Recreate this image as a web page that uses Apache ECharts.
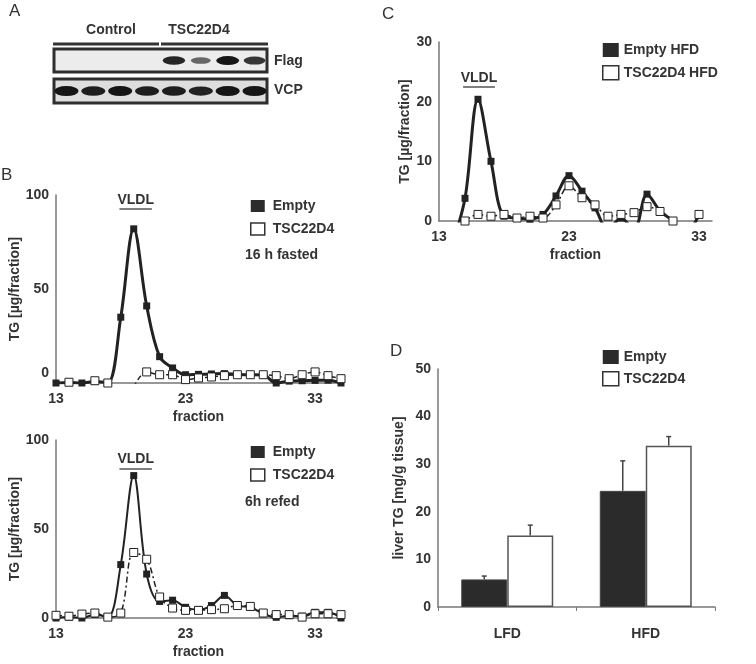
<!DOCTYPE html>
<html>
<head>
<meta charset="utf-8">
<script src="https://cdn.jsdelivr.net/npm/echarts@6/dist/echarts.min.js"></script>
<style>html,body{margin:0;padding:0;background:#fff}#c{width:756px;height:664px}</style>
</head>
<body>
<div id="c"></div>
<script>
// ---------- DATA ----------
// Panel A (western blot): lane intensities (0..1)
const lanes = ['C1','C2','C3','C4','T1','T2','T3','T4'];
const flagIntensity = [0, 0, 0, 0, 0.9, 0.5, 1.0, 0.8];
const vcpIntensity  = [1.0, 0.95, 1.0, 0.95, 0.95, 0.92, 1.0, 1.0];

// Panel B: fractions 13..35
const fractionsB = [13,14,15,16,17,18,19,20,21,22,23,24,25,26,27,28,29,30,31,32,33,34,35];
const fastedEmpty = [0,0.3,0,0.8,0.2,35,82,41,14,8,4.4,4.6,4.8,5,4.5,4.4,4.2,0,1,1.2,1.4,1.5,0];
const fastedTSC   = [null,0.4,null,1.2,0,null,-2,5.9,4.4,4.4,1.8,2.7,3.2,3.9,4.4,4.4,4.4,3.9,2.3,4.4,5.9,3.9,2.3];
const refedEmpty  = [0,0.5,0,2,0.5,30,80,24.7,9.3,10,6,4.7,7,12.7,7,6,2.4,0.4,1.3,1,3.2,3.2,0];
const refedTSC    = [1.5,1,2.2,2.8,0.5,2.8,36.8,33,11.8,5.6,4.3,4.3,4.7,5.2,7,6.5,2.8,1.9,1.9,0.5,2.4,2.4,1.9];

// Panel C: fractions 13..34 (HFD)
const fractionsC = [13,14,15,16,17,18,19,20,21,22,23,24,25,26,27,28,29,30,31,32,33,34];
const hfdEmpty = [null,-4,3.8,20.4,10,0.8,0.5,0.3,1.1,4.2,7.6,5.0,2.2,-1.5,0.5,-1.5,4.5,1.7,0,-2,1.1,null];
const hfdTSC   = [null,null,0,1.1,0.8,1.1,0.5,0.8,0.5,2.7,5.9,3.9,2.7,0.8,1.1,1.4,2.4,1.6,0,null,1.1,null];

// Panel D: liver TG
const dietCategories = ['LFD','HFD'];
const liverEmpty    = [5.8, 24.4];
const liverEmptyErr = [0.7, 6.3];
const liverTSC      = [15.0, 33.9];
const liverTSCErr   = [2.2, 1.9];

// Axis ticks
const fractionTicks = [13, 23, 33];

// ---------- STYLE ----------
const FONT = '"Liberation Sans", Arial, sans-serif';
const TXT = '#333';
const AX = '#777';
const DARK = '#222';
const lbl = {color: TXT, fontFamily: FONT, fontWeight: 'bold', fontSize: 14};

function pairs(xs, ys){ return xs.map((x,i)=>[x, ys[i]]); }

function fracXAxis(gi, max){
  return {
    gridIndex: gi, type: 'value', min: 13, max: max, interval: 10,
    axisLine: {show: true, onZero: false, lineStyle: {color: AX, width: 1.5}},
    axisTick: {show: false}, splitLine: {show: false},
    axisLabel: Object.assign({margin: 9, formatter: v => fractionTicks.includes(v) ? String(v) : ''}, lbl),
    name: 'fraction', nameLocation: 'middle', nameGap: 27, nameTextStyle: lbl
  };
}
function valYAxis(gi, max, interval, name, gap, liftZero){
  const ax = {
    gridIndex: gi, type: 'value', min: 0, max: max, interval: interval,
    axisLine: {show: true, lineStyle: {color: AX, width: 1.5}},
    axisTick: {show: false}, splitLine: {show: false},
    axisLabel: Object.assign({margin: 7}, lbl),
    name: name, nameLocation: 'middle', nameGap: gap, nameTextStyle: lbl
  };
  if (liftZero) {
    ax.axisLabel.formatter = v => v === 0 ? '{z|0}' : String(v);
    ax.axisLabel.rich = {z: Object.assign({padding: [0, 0, 20, 0]}, lbl)};
  }
  return ax;
}
function vldl(x0, x1, y){
  return {
    silent: true, symbol: 'none',
    lineStyle: {color: '#555', width: 1.5, type: 'solid'},
    label: Object.assign({show: true, position: 'insideMiddleTop', distance: 2, formatter: 'VLDL'}, lbl),
    data: [[{coord: [x0, y]}, {coord: [x1, y]}]]
  };
}
function emptyLine(name, gi, data, w, mark){
  const s = {
    name: name, type: 'line', xAxisIndex: gi, yAxisIndex: gi, data: data,
    smooth: 0.35, connectNulls: false, clip: true,
    symbol: 'rect', symbolSize: 7,
    lineStyle: {color: DARK, width: w},
    itemStyle: {color: DARK}, z: 3
  };
  if (mark) s.markLine = mark;
  return s;
}
function tscLine(name, gi, data, dash){
  return {
    name: name, type: 'line', xAxisIndex: gi, yAxisIndex: gi, data: data,
    smooth: 0.35, connectNulls: false, clip: true,
    symbol: 'rect', symbolSize: 8,
    lineStyle: {color: DARK, width: 1.5, type: dash},
    itemStyle: {color: '#fff', borderColor: DARK, borderWidth: 1}, z: 4
  };
}
function legend(left, top, names, iw, ih, gap, pad){
  return {
    left: left, top: top, orient: 'vertical', selectedMode: false,
    itemWidth: iw, itemHeight: ih, itemGap: gap,
    textStyle: Object.assign({padding: [0,0,0,pad]}, lbl),
    data: [
      {name: names[0], icon: 'rect', itemStyle: {color: '#2b2b2b', borderWidth: 0}},
      {name: names[1], icon: 'rect', itemStyle: {color: '#fff', borderColor: '#333', borderWidth: 1.5}}
    ]
  };
}
function errBar(offset){
  return function(params, api){
    const ci = api.value(0), v = api.value(1), e = api.value(2);
    const base = api.coord([ci, v]);
    const top = api.coord([ci, v + e]);
    const cw = api.size([1, 0])[0];
    const x = base[0] + offset * cw;
    const st = {stroke: '#444', lineWidth: 1.5};
    return {type: 'group', children: [
      {type: 'line', shape: {x1: x, y1: base[1], x2: x, y2: top[1]}, style: st},
      {type: 'line', shape: {x1: x - 2.5, y1: top[1], x2: x + 2.5, y2: top[1]}, style: st}
    ]};
  };
}

const bandColor = p => 'rgba(22,22,22,' + (0.25 + 0.75 * p.value[2]) + ')';
const flagBands = flagIntensity.map((v,i)=>[i, 1.55, v]).filter(d => d[2] > 0);
const vcpBands  = vcpIntensity.map((v,i)=>[i, 0.46, v]);

const chart = echarts.init(document.getElementById('c'), null, {renderer: 'canvas'});
chart.setOption({
  backgroundColor: '#fff',
  animation: false,
  textStyle: {fontFamily: FONT},
  grid: [
    {left: 53, top: 48, width: 215, height: 56},
    {left: 56, top: 195, width: 285, height: 188},
    {left: 56, top: 440, width: 285, height: 178},
    {left: 439, top: 42, width: 273, height: 179},
    {left: 438, top: 369, width: 277, height: 238}
  ],
  xAxis: [
    {gridIndex: 0, type: 'category', data: lanes, show: false},
    fracXAxis(1, 35),
    fracXAxis(2, 35),
    fracXAxis(3, 34),
    {gridIndex: 4, type: 'category', data: dietCategories,
     axisLine: {show: true, lineStyle: {color: AX, width: 1.5}},
     axisTick: {show: true, length: 4, lineStyle: {color: AX}},
     axisLabel: Object.assign({margin: 20}, lbl)}
  ],
  yAxis: [
    {gridIndex: 0, type: 'value', min: 0, max: 2, show: false},
    valYAxis(1, 100, 50, 'TG [µg/fraction]', 19, true),
    valYAxis(2, 100, 50, 'TG [µg/fraction]', 19, false),
    valYAxis(3, 30, 10, 'TG [µg/fraction]', 27, false),
    valYAxis(4, 50, 10, 'liver TG [mg/g tissue]', 32, false)
  ],
  legend: [
    legend(245, 194, ['Empty','TSC22D4'], 14, 12, 9, 3),
    legend(245, 440, ['Empty','TSC22D4'], 14, 12, 9, 3),
    legend(597, 38, ['Empty HFD','TSC22D4 HFD'], 16, 14, 8, 0),
    legend(597, 345, ['Empty','TSC22D4'], 16, 14, 7, 0)
  ],
  series: [
    {type: 'scatter', xAxisIndex: 0, yAxisIndex: 0, data: flagBands, silent: true, z: 3,
     symbol: 'circle', symbolSize: v => [17 + 6 * v[2], 4 + 5 * v[2]],
     itemStyle: {color: bandColor, opacity: 1}},
    {type: 'scatter', xAxisIndex: 0, yAxisIndex: 0, data: vcpBands, silent: true, z: 3,
     symbol: 'circle', symbolSize: v => [24, 10 * v[2]],
     itemStyle: {color: bandColor, opacity: 1}},

    emptyLine('Empty', 1, pairs(fractionsB, fastedEmpty), 3, vldl(17.9, 20.4, 92.5)),
    tscLine('TSC22D4', 1, pairs(fractionsB, fastedTSC), [5, 3]),
    emptyLine('Empty', 2, pairs(fractionsB, refedEmpty), 2, vldl(17.9, 20.4, 84)),
    tscLine('TSC22D4', 2, pairs(fractionsB, refedTSC), [6, 3, 2, 3]),
    emptyLine('Empty HFD', 3, pairs(fractionsC, hfdEmpty), 3, vldl(14.85, 17.3, 22.5)),
    tscLine('TSC22D4 HFD', 3, pairs(fractionsC, hfdTSC), [6, 3, 2, 3]),

    {name: 'Empty', type: 'bar', xAxisIndex: 4, yAxisIndex: 4, data: liverEmpty,
     barWidth: '33.2%', barGap: '0%', itemStyle: {color: '#2b2b2b', borderColor: '#444', borderWidth: 1}},
    {name: 'TSC22D4', type: 'bar', xAxisIndex: 4, yAxisIndex: 4, data: liverTSC,
     barWidth: '33.2%', barGap: '0%', itemStyle: {color: '#fff', borderColor: '#555', borderWidth: 1.5}},
    {type: 'custom', xAxisIndex: 4, yAxisIndex: 4, renderItem: errBar(-0.166), silent: true, z: 5,
     data: liverEmpty.map((v,i)=>[i, v, liverEmptyErr[i]])},
    {type: 'custom', xAxisIndex: 4, yAxisIndex: 4, renderItem: errBar(0.166), silent: true, z: 5,
     data: liverTSC.map((v,i)=>[i, v, liverTSCErr[i]])}
  ],
  graphic: [
    {type: 'text', left: 9, top: 3, style: {text: 'A', fill: TXT, font: '17px ' + FONT}},
    {type: 'text', left: 1, top: 167, style: {text: 'B', fill: TXT, font: '17px ' + FONT}},
    {type: 'text', left: 382, top: 6, style: {text: 'C', fill: TXT, font: '17px ' + FONT}},
    {type: 'text', left: 390, top: 343, style: {text: 'D', fill: TXT, font: '17px ' + FONT}},
    // blot frame
    {type: 'text', x: 111, y: 30, style: {text: 'Control', fill: TXT, font: 'bold 14px ' + FONT, textAlign: 'center', textVerticalAlign: 'middle'}},
    {type: 'text', x: 199, y: 30, style: {text: 'TSC22D4', fill: TXT, font: 'bold 14px ' + FONT, textAlign: 'center', textVerticalAlign: 'middle'}},
    {type: 'line', shape: {x1: 53, y1: 44, x2: 159, y2: 44}, style: {stroke: '#333', lineWidth: 3}},
    {type: 'line', shape: {x1: 161, y1: 44, x2: 268, y2: 44}, style: {stroke: '#333', lineWidth: 3}},
    {type: 'rect', z: -1, shape: {x: 54, y: 49, width: 213, height: 23}, style: {fill: '#ececec', stroke: '#2e2e2e', lineWidth: 3}},
    {type: 'rect', z: -1, shape: {x: 54, y: 79, width: 213, height: 24}, style: {fill: '#dedede', stroke: '#2e2e2e', lineWidth: 3}},
    {type: 'text', x: 274, y: 61, style: {text: 'Flag', fill: TXT, font: 'bold 14px ' + FONT, textVerticalAlign: 'middle'}},
    {type: 'text', x: 274, y: 90, style: {text: 'VCP', fill: TXT, font: 'bold 14px ' + FONT, textVerticalAlign: 'middle'}},
    // condition labels
    {type: 'text', x: 245, y: 255, style: {text: '16 h fasted', fill: TXT, font: 'bold 14px ' + FONT, textVerticalAlign: 'middle'}},
    {type: 'text', x: 245, y: 502, style: {text: '6h refed', fill: TXT, font: 'bold 14px ' + FONT, textVerticalAlign: 'middle'}}
  ]
});
</script>
</body>
</html>
